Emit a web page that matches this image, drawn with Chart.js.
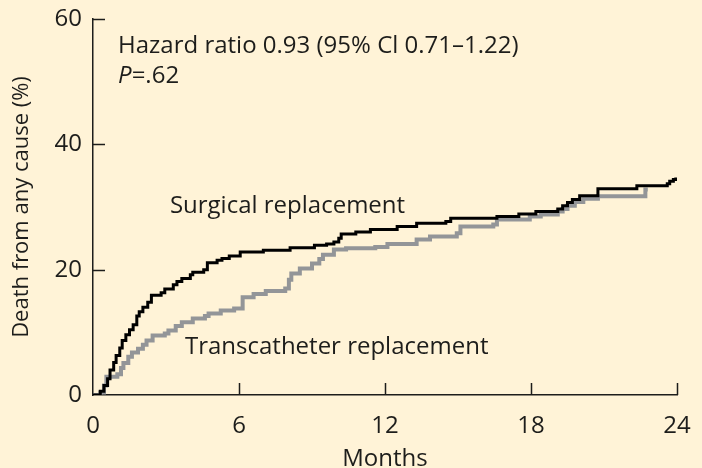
<!DOCTYPE html>
<html>
<head>
<meta charset="utf-8">
<script src="https://cdn.jsdelivr.net/npm/chart.js@4.4.0/dist/chart.umd.min.js"></script>
<style>
  html, body { margin: 0; padding: 0; background: #fff3d7; }
  #wrap { width: 702px; height: 468px; }
</style>
</head>
<body>
<div id="wrap"><canvas id="kmChart" width="702" height="468"></canvas></div>
<script>
// Kaplan-Meier step data (months, cumulative % dead)
const surgicalMonths = [0, 0.3, 0.45, 0.6, 0.7, 0.85, 0.95, 1.1, 1.2, 1.35, 1.5, 1.65, 1.8, 1.9, 2.05, 2.25, 2.4, 2.8, 2.95, 3.3, 3.45, 3.65, 4.0, 4.1, 4.55, 4.7, 5.1, 5.3, 5.6, 6.05, 7.0, 8.1, 9.1, 9.6, 9.9, 10.1, 10.2, 10.8, 11.4, 12.5, 13.3, 14.5, 14.7, 16.6, 17.5, 18.2, 19.1, 19.3, 19.5, 19.7, 20.0, 20.75, 22.35, 23.6, 23.7, 23.85, 23.95];
const surgicalPct = [0, 0.6, 1.5, 2.6, 4.0, 5.2, 6.3, 7.5, 8.7, 9.6, 10.4, 11.2, 12.6, 13.3, 14.0, 14.8, 15.9, 16.3, 16.9, 17.6, 18.1, 18.6, 19.2, 19.6, 20.0, 21.1, 21.5, 21.8, 22.2, 22.8, 23.1, 23.5, 23.9, 24.1, 24.4, 25.0, 25.7, 26.0, 26.4, 26.9, 27.4, 27.7, 28.2, 28.5, 28.9, 29.3, 29.7, 30.2, 30.7, 31.2, 31.8, 32.9, 33.4, 33.7, 34.1, 34.4, 34.7];

const transMonths = [0, 0.3, 0.45, 0.55, 1.0, 1.15, 1.25, 1.45, 1.6, 1.85, 2.05, 2.2, 2.45, 2.95, 3.1, 3.4, 3.65, 4.1, 4.6, 4.75, 5.25, 5.8, 6.15, 6.6, 7.1, 7.9, 8.05, 8.15, 8.5, 9.0, 9.3, 9.45, 9.9, 10.4, 11.6, 12.1, 13.3, 13.85, 14.95, 15.1, 16.45, 16.6, 17.95, 18.4, 19.1, 19.3, 19.5, 19.8, 20.15, 20.75, 22.7, 22.8];
const transPct = [0, 0.4, 1.5, 2.9, 3.3, 4.3, 5.1, 6.1, 6.8, 7.4, 8.0, 8.7, 9.5, 9.8, 10.3, 11.0, 11.6, 12.2, 12.6, 13.0, 13.5, 13.8, 15.6, 16.1, 16.6, 17.0, 18.4, 19.4, 20.2, 21.0, 21.7, 22.4, 23.2, 23.4, 23.6, 24.1, 24.8, 25.3, 25.8, 26.9, 27.2, 28.0, 28.5, 28.8, 29.3, 29.7, 30.2, 30.8, 31.3, 31.7, 32.8, 32.8];

const xTicks = [0, 6, 12, 18, 24];
const yTicks = [0, 20, 40, 60];

const FONT = "'Open Sans', 'Noto Sans', sans-serif";
const INK = "#1d1d1b";

function toPoints(xs, ys) {
  return xs.map((x, i) => ({ x: x, y: ys[i] }));
}

// short inward tick marks + the text annotations
const extras = {
  id: "extras",
  afterDraw(chart) {
    const ctx = chart.ctx;
    const xs = chart.scales.x;
    const ys = chart.scales.y;
    const x0 = xs.getPixelForValue(0);
    const y0 = ys.getPixelForValue(0);
    ctx.save();
    ctx.strokeStyle = INK;
    ctx.lineWidth = 1.5;
    ctx.beginPath();
    xTicks.slice(1).forEach(t => {
      const px = Math.round(xs.getPixelForValue(t)) + 0.5;
      ctx.moveTo(px, y0);
      ctx.lineTo(px, y0 - 12);
    });
    yTicks.slice(1).forEach(t => {
      const py = Math.round(ys.getPixelForValue(t)) + 0.5;
      ctx.moveTo(x0, py);
      ctx.lineTo(x0 + 12, py);
    });
    ctx.stroke();

    ctx.fillStyle = INK;
    ctx.textBaseline = "alphabetic";
    ctx.textAlign = "left";
    ctx.font = "24px " + FONT;
    ctx.fillText("Hazard ratio 0.93 (95% Cl 0.71\u20131.22)", xs.getPixelForValue(1.03), ys.getPixelForValue(54.5));
    ctx.font = "italic 24px " + FONT;
    const px = xs.getPixelForValue(1.03);
    ctx.fillText("P", px, ys.getPixelForValue(49.8));
    const w = ctx.measureText("P").width;
    ctx.font = "24px " + FONT;
    ctx.fillText("=.62", px + w, ys.getPixelForValue(49.8));

    ctx.fillText("Surgical replacement", xs.getPixelForValue(3.16), ys.getPixelForValue(29));
    ctx.fillText("Transcatheter replacement", xs.getPixelForValue(3.78), ys.getPixelForValue(6.5));
    ctx.restore();
  }
};

const chart = new Chart("kmChart", {
  type: "line",
  data: {
    datasets: [
      {
        label: "Surgical replacement",
        data: toPoints(surgicalMonths, surgicalPct),
        borderColor: "#000000",
        borderWidth: 3,
        stepped: true,
        pointRadius: 0,
        fill: false,
        order: 0,
      },
      {
        label: "Transcatheter replacement",
        data: toPoints(transMonths, transPct),
        borderColor: "#939598",
        borderWidth: 4,
        stepped: true,
        pointRadius: 0,
        fill: false,
        order: 1,
      },
    ],
  },
  options: {
    responsive: false,
    animation: false,
    layout: { autoPadding: false, padding: { top: 19, right: 25, left: 0, bottom: 0 } },
    plugins: { legend: { display: false }, tooltip: { enabled: false } },
    scales: {
      x: {
        type: "linear",
        min: 0,
        max: 24,
        afterFit(scale) {
          scale.height = 73;
          scale.paddingLeft = 0;
          scale.paddingRight = 0;
        },
        afterBuildTicks(scale) { scale.ticks = xTicks.map(v => ({ value: v })); },
        grid: { display: true, drawOnChartArea: false, drawTicks: false },
        border: { display: true, color: INK, width: 1.5 },
        ticks: { color: INK, padding: 17, font: { family: FONT, size: 24 }, maxRotation: 0 },
        title: { display: true, text: "Months", color: INK, padding: { top: 0, bottom: -3 }, font: { family: FONT, size: 24, lineHeight: 1 } },
      },
      y: {
        type: "linear",
        min: 0,
        max: 60,
        afterFit(scale) {
          scale.width = 93;
          scale.paddingTop = 0;
          scale.paddingBottom = 0;
        },
        afterBuildTicks(scale) { scale.ticks = yTicks.map(v => ({ value: v })); },
        grid: { display: true, drawOnChartArea: false, drawTicks: false },
        border: { display: true, color: INK, width: 1.5 },
        ticks: { color: INK, padding: 11, font: { family: FONT, size: 24 } },
        title: { display: true, text: "Death from any cause (%)", color: INK, padding: { top: 11, bottom: 0 }, font: { family: FONT, size: 22, lineHeight: 1 } },
      },
    },
  },
  plugins: [extras],
});
</script>
</body>
</html>
